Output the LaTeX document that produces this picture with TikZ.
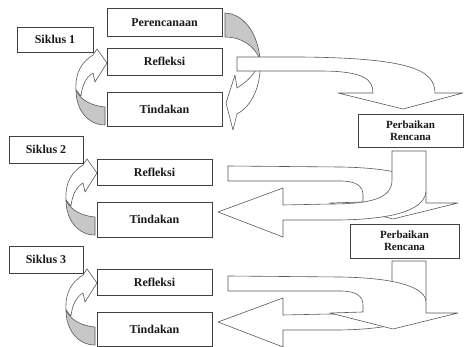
\documentclass[tikz,border=0pt]{standalone}
\usepackage{fontspec}
\setmainfont{Liberation Serif}
\usepackage{tikz}
\usetikzlibrary{positioning, calc}

\begin{document}
\begin{tikzpicture}[x=1pt,y=-1pt]
		\tikzstyle{box} = [draw=black!75, line width=0.7pt, fill=white, minimum width=115, minimum height=27, inner sep=0, outer sep=0, text=black!90, font=\fontsize{12}{13}\selectfont\bfseries]
		\tikzstyle{cyclebox} = [box, minimum width=76, minimum height=25]
		\tikzstyle{planbox} = [box, minimum width=105, minimum height=33, align=center, font=\fontsize{11}{12}\selectfont\bfseries]
		\tikzstyle{band} = [draw=black!65, line width=0.6pt, fill=white, line join=round]
		\tikzstyle{backband} = [band, fill=black!22]
		\useasboundingbox (0,0) rectangle (464,347);
		% siklus 1 turning arrows
		\draw [backband] (225,13) .. controls (245,14) and (258,35) .. (260,59) .. controls (254,46) and (242,37) .. (225,37) -- cycle;
		\draw [band] (260,59) .. controls (262,85) and (252,106) .. (237,114) -- (233,130) -- (226,103) -- (235,75) -- (237,88) .. controls (250,80) and (258,70) .. (260,59) -- cycle;
		\begin{scope}
		\draw [backband] (76,90) .. controls (80,100) and (92,106) .. (105,107) -- (105,125) .. controls (88,125) and (76,110) .. (76,90) -- cycle;
		\draw [band] (76,90) .. controls (75,72) and (82,62) .. (93,55) -- (97,49) -- (107,63) -- (95,82) -- (93,73) .. controls (86,77) and (82,86) .. (81,96) -- cycle;
		\end{scope}
		\begin{scope}[shift={(-10,110)}]
		\draw [backband] (76,90) .. controls (80,100) and (92,106) .. (105,107) -- (105,125) .. controls (88,125) and (76,110) .. (76,90) -- cycle;
		\draw [band] (76,90) .. controls (75,72) and (82,62) .. (93,55) -- (97,49) -- (107,63) -- (95,82) -- (93,73) .. controls (86,77) and (82,86) .. (81,96) -- cycle;
		\end{scope}
		\begin{scope}[shift={(-10,220)}]
		\draw [backband] (76,90) .. controls (80,100) and (92,106) .. (105,107) -- (105,125) .. controls (88,125) and (76,110) .. (76,90) -- cycle;
		\draw [band] (76,90) .. controls (75,72) and (82,62) .. (93,55) -- (97,49) -- (107,63) -- (95,82) -- (93,73) .. controls (86,77) and (82,86) .. (81,96) -- cycle;
		\end{scope}
		% boxes
		\node [cyclebox] (siklus1) at (55,39.5) {Siklus 1};
		\node [box, minimum height=28] (plan) at (164.5,22.5) {Perencanaan};
		\node [box] (refl1) at (164.5,61.5) {Refleksi};
		\node [box, minimum height=34] (tind1) at (164.5,109) {Tindakan};
		\node [cyclebox, minimum width=74, minimum height=27] (siklus2) at (46,149.5) {Siklus 2};
		\node [box, minimum height=26] (refl2) at (154.5,172) {Refleksi};
		\node [box, minimum height=35] (tind2) at (154.5,219.5) {Tindakan};
		\node [cyclebox, minimum width=74, minimum height=27] (siklus3) at (46,259.5) {Siklus 3};
		\node [box, minimum height=26] (refl3) at (154.5,282) {Refleksi};
		\node [box, minimum height=34] (tind3) at (154.5,329.5) {Tindakan};
		\node [planbox] (perb1) at (410.5,130.5) {Perbaikan\\Rencana};
		\node [planbox, minimum width=109, minimum height=34] (perb2) at (404.5,241) {Perbaikan\\Rencana};
		% big arrows
		\draw [band] (237,57) -- (300,57) .. controls (410,58) and (435,70) .. (435,93) -- (463,93) -- (403,109) -- (338,93) -- (373,93) .. controls (373,80) and (365,71) .. (320,71) -- (237,71) -- cycle;
		\draw [band] (228,166) -- (340,167) .. controls (405,168) and (426,180) .. (426,192) -- (426,203) -- (458,203) -- (393,219) -- (330,203) -- (363,202) -- (363,195) .. controls (363,186) and (356,181) .. (340,181) -- (228,181) -- cycle;
		\draw [band] (392,151) -- (392,180) .. controls (392,198) and (372,204) .. (330,204) -- (283,205) -- (283,188) -- (218,212) -- (283,237) -- (283,220) -- (340,220) .. controls (400,219) and (426,208) .. (426,190) -- (426,151) -- cycle;
		\begin{scope}[shift={(0,110)}]
		\draw [band] (392,151) -- (392,180) .. controls (392,198) and (372,204) .. (330,204) -- (283,205) -- (283,188) -- (218,212) -- (283,237) -- (283,220) -- (340,220) .. controls (400,219) and (426,208) .. (426,190) -- (426,151) -- cycle;
		\draw [band] (228,166) -- (340,167) .. controls (405,168) and (426,180) .. (426,192) -- (426,203) -- (458,203) -- (393,219) -- (330,203) -- (363,202) -- (363,195) .. controls (363,186) and (356,181) .. (340,181) -- (228,181) -- cycle;
		\end{scope}
\end{tikzpicture}
\end{document}
